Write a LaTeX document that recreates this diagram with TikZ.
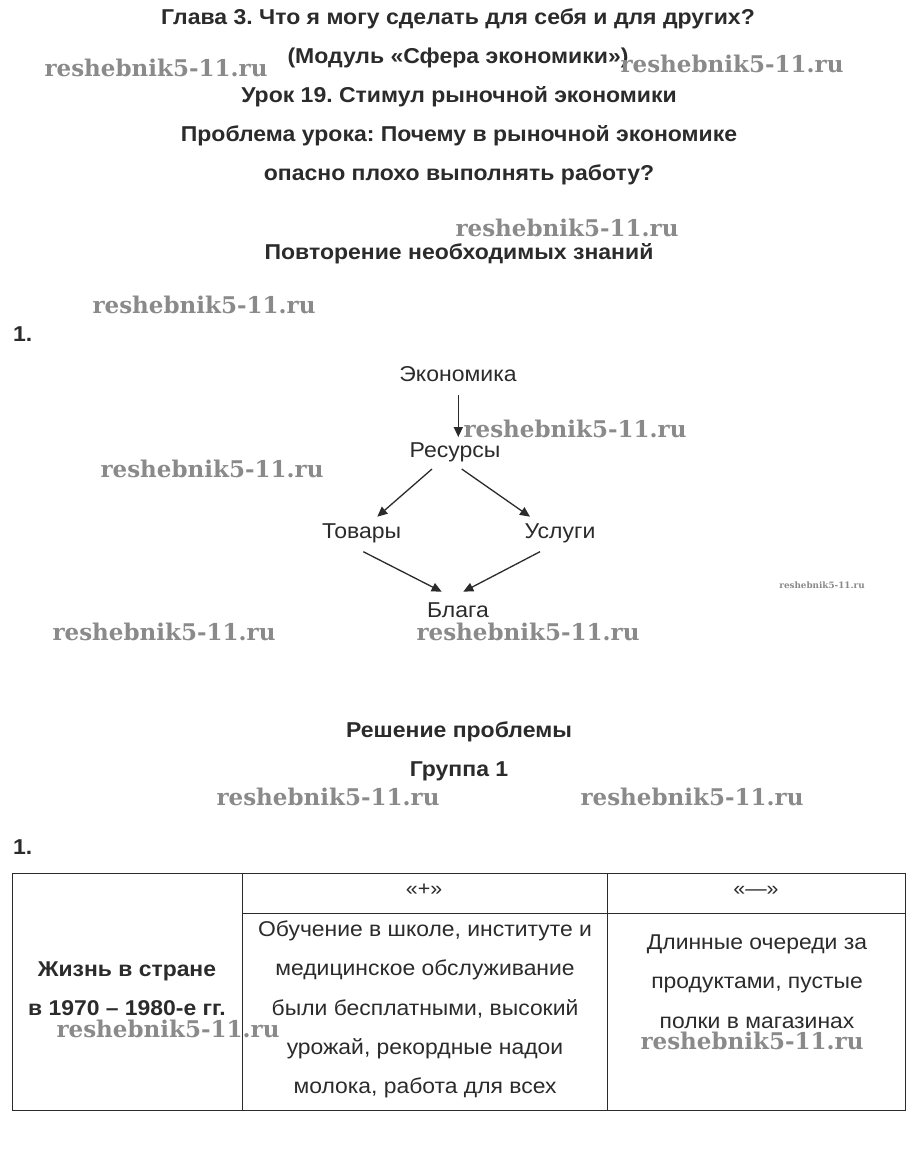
\documentclass[tikz,border=0pt]{standalone}
\usepackage{fontspec}
\setmainfont{Liberation Sans}[FakeStretch=1.07]
\newfontfamily\wmfont{DejaVu Serif}
\usetikzlibrary{arrows.meta,calc}
\definecolor{ink}{HTML}{2B2B2B}
\definecolor{wmgray}{HTML}{8A8A8A}
\frenchspacing
\tikzset{
  head/.style={font=\fontsize{21.5}{24}\selectfont\bfseries, text=ink, anchor=base, inner sep=0},
  lbl/.style={font=\fontsize{21.5}{24}\selectfont, text=ink, anchor=base, inner sep=0},
  cell/.style={font=\fontsize{21.4}{24}\selectfont, text=ink, anchor=base, inner sep=0},
  cellb/.style={font=\fontsize{21.4}{24}\selectfont\bfseries, text=ink, anchor=base, inner sep=0},
  hdr/.style={font=\fontsize{20}{22}\selectfont, text=ink, anchor=base, inner sep=0},
  num/.style={font=\fontsize{21.5}{24}\selectfont\bfseries, text=ink, anchor=base west, inner sep=0},
  wm/.style={font=\wmfont\fontsize{23}{25}\selectfont\bfseries, text=wmgray, anchor=base, inner sep=0},
  wmsmall/.style={font=\wmfont\fontsize{8.8}{10}\selectfont\bfseries, text=wmgray, anchor=base, inner sep=0},
  arr/.style={draw=ink, line width=1.3pt, -{Triangle[length=10pt,width=9pt]}},
  rule/.style={draw=ink, line width=1pt}
}
\begin{document}
\begin{tikzpicture}[x=1pt,y=-1pt]
\useasboundingbox[fill=white] (0,0) rectangle (915,1155);
% headings
\node[head] (h1) at (458,25) {Глава 3. Что я могу сделать для себя и для других?};
\node[head] (h2) at (458,64) {(Модуль «Сфера экономики»)};
\node[head] (h3) at (459,103) {Урок 19. Стимул рыночной экономики};
\node[head] (h4) at (459,142) {Проблема урока: Почему в рыночной экономике};
\node[head] (h5) at (459,181) {опасно плохо выполнять работу?};
\node[head] (h6) at (459,260) {Повторение необходимых знаний};
\node[num] (n1) at (13,341) {1.};
% diagram
\node[lbl] (eco) at (458,381.7) {Экономика};
\node[lbl] (res) at (455,457) {Ресурсы};
\node[lbl] (tov) at (361.7,538.3) {Товары};
\node[lbl] (usl) at (560,538.3) {Услуги};
\node[lbl] (blg) at (458,617) {Блага};
\draw[arr] ($(eco.base)+(0.3,13.3)$) -- ($(res.base)+(3.3,-20)$);
\draw[arr] ($(res.base)+(-23,12)$) -- ($(tov.base)+(15.6,-21.6)$);
\draw[arr] ($(res.base)+(6.7,12)$) -- ($(usl.base)+(-30,-21.6)$);
\draw[arr] ($(tov.base)+(1.6,13.4)$) -- ($(blg.base)+(-16.3,-25.3)$);
\draw[arr] ($(usl.base)+(-20,13.4)$) -- ($(blg.base)+(5.3,-25.3)$);
% second part
\node[head] (h7) at (459,737) {Решение проблемы};
\node[head] (h8) at (459,776) {Группа 1};
\node[num] (n2) at (13,854) {1.};
% table
\coordinate (tl) at (12,873);
\coordinate (br) at (905,1110);
\draw[rule] (tl) rectangle (br);
\draw[rule] (242,873) -- (242,1110);
\draw[rule] (607,873) -- (607,1110);
\draw[rule] (242,913) -- (905,913);
\node[hdr] (plus) at (424,895) {«+»};
\node[hdr] (minus) at (756,895) {«—»};
\node[cellb] (l1) at (127,976) {Жизнь в стране};
\node[cellb] (l2) at (127,1015) {в 1970 – 1980-е гг.};
\node[cell] (p1) at (425,936) {Обучение в школе, институте и};
\node[cell] (p2) at (425,975) {медицинское обслуживание};
\node[cell] (p3) at (425,1015) {были бесплатными, высокий};
\node[cell] (p4) at (425,1054) {урожай, рекордные надои};
\node[cell] (p5) at (425,1093) {молока, работа для всех};
\node[cell] (m1) at (757,949) {Длинные очереди за};
\node[cell] (m2) at (757,988) {продуктами, пустые};
\node[cell] (m3) at (757,1028) {полки в магазинах};
% watermarks
\node[wm] (w1) at (156,77) {reshebnik5-11.ru};
\node[wm] (w2) at (732,73) {reshebnik5-11.ru};
\node[wm] (w3) at (567,237) {reshebnik5-11.ru};
\node[wm] (w4) at (204,313) {reshebnik5-11.ru};
\node[wm] (w5) at (575,437) {reshebnik5-11.ru};
\node[wm] (w6) at (212,477) {reshebnik5-11.ru};
\node[wmsmall] (w7) at (822,588) {reshebnik5-11.ru};
\node[wm] (w8) at (164,640) {reshebnik5-11.ru};
\node[wm] (w9) at (528,640) {reshebnik5-11.ru};
\node[wm] (w10) at (328,805) {reshebnik5-11.ru};
\node[wm] (w11) at (692,805) {reshebnik5-11.ru};
\node[wm] (w12) at (168,1037) {reshebnik5-11.ru};
\node[wm] (w13) at (752,1049) {reshebnik5-11.ru};
\end{tikzpicture}
\end{document}
